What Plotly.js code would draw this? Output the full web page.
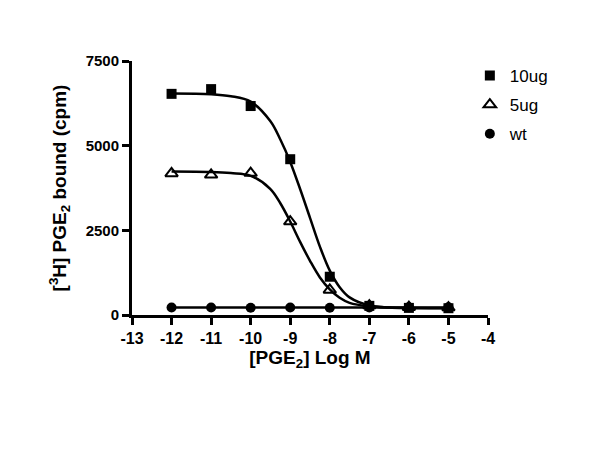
<!DOCTYPE html>
<html><head><meta charset="utf-8">
<script src="https://cdn.plot.ly/plotly-3.0.1.min.js"></script>
<style>body{margin:0;background:#fff}#c{width:600px;height:450px}</style>
</head><body><div id="c"></div>
<script>
// measured points
const logDose = [-12, -11, -10, -9, -8, -7, -6, -5];
const y10ug = [6530, 6670, 6170, 4600, 1130, 270, 210, 200];
const y5ug  = [4180, 4140, 4190, 2760, 740, 280, 230, 220];
const yWt   = [220, 220, 215, 220, 215, 220, 230, 230];
// fitted curves
const curveX   = [-12, -11, -10.5, -10, -9.5, -9.25, -9, -8.75, -8.5, -8.25, -8, -7.75, -7.5, -7, -6.5, -6, -5];
const curve10  = [6540, 6520, 6460, 6300, 5720, 5180, 4520, 3720, 2870, 2020, 1310, 820, 520, 280, 220, 205, 200];
const curve5   = [4240, 4225, 4190, 4110, 3720, 3300, 2760, 2160, 1600, 1110, 760, 510, 360, 255, 220, 210, 205];
const wtLineX  = [-12, -5];
const wtLineY  = [220, 220];
const names = ['10ug', '5ug', 'wt'];

const FAM = 'Liberation Sans, Arial, sans-serif';
const F = {family: FAM, color: '#000', weight: 700};
const lineStyle = {color: '#000', width: 2.5, shape: 'spline', smoothing: 1};
const traces = [
  {x: curveX, y: curve10, mode: 'lines', line: lineStyle, showlegend: false, hoverinfo: 'skip'},
  {x: curveX, y: curve5, mode: 'lines', line: lineStyle, showlegend: false, hoverinfo: 'skip'},
  {x: wtLineX, y: wtLineY, mode: 'lines', line: {color: '#000', width: 2.5}, showlegend: false, hoverinfo: 'skip'},
  {x: logDose, y: y10ug, mode: 'markers', name: names[0], legendgroup: 'a',
   marker: {symbol: 'square', size: 10, color: '#000'}},
  {x: logDose, y: y5ug, mode: 'markers', name: names[1], legendgroup: 'b',
   marker: {symbol: 'triangle-up-open', size: 11, color: '#000', line: {width: 2, color: '#000'}}},
  {x: logDose, y: yWt, mode: 'markers', name: names[2], legendgroup: 'c',
   marker: {symbol: 'circle', size: 10, color: '#000'}}
];
const layout = {
  width: 600, height: 450,
  margin: {l: 132, r: 112, t: 61, b: 135, pad: 0},
  paper_bgcolor: '#fff', plot_bgcolor: '#fff',
  font: F,
  showlegend: true,
  legend: {x: 0.949, y: 1.012, xanchor: 'left', yanchor: 'top', font: {size: 17, family: FAM, color: '#000', weight: 400},
           tracegroupgap: 4, bgcolor: 'rgba(0,0,0,0)', itemwidth: 30},
  xaxis: {range: [-13, -4], tickvals: [-13, -12, -11, -10, -9, -8, -7, -6, -5, -4],
          ticktext: ['-13','-12','-11','-10','-9','-8','-7','-6','-5','-4'],
          showline: true, linecolor: '#000', linewidth: 3, ticks: 'outside', ticklen: 7, tickwidth: 3, tickcolor: '#000',
          showgrid: false, zeroline: false, tickfont: {size: 16, family: FAM, color: '#000', weight: 700},
          title: {text: '[PGE<sub>2</sub>] Log M', font: {size: 19, family: FAM, color: '#000', weight: 700}, standoff: 5}},
  yaxis: {range: [0, 7500], tickvals: [0, 2500, 5000, 7500],
          showline: true, linecolor: '#000', linewidth: 3, ticks: 'outside', ticklen: 7, tickwidth: 3, tickcolor: '#000',
          showgrid: false, zeroline: false, tickfont: {size: 15, family: FAM, color: '#000', weight: 700},
          title: {text: '[<sup>3</sup>H] PGE<sub>2</sub> bound (cpm)', font: {size: 19, family: FAM, color: '#000', weight: 700}, standoff: 14}}
};
Plotly.newPlot('c', traces, layout, {displayModeBar: false, staticPlot: true});
</script></body></html>
